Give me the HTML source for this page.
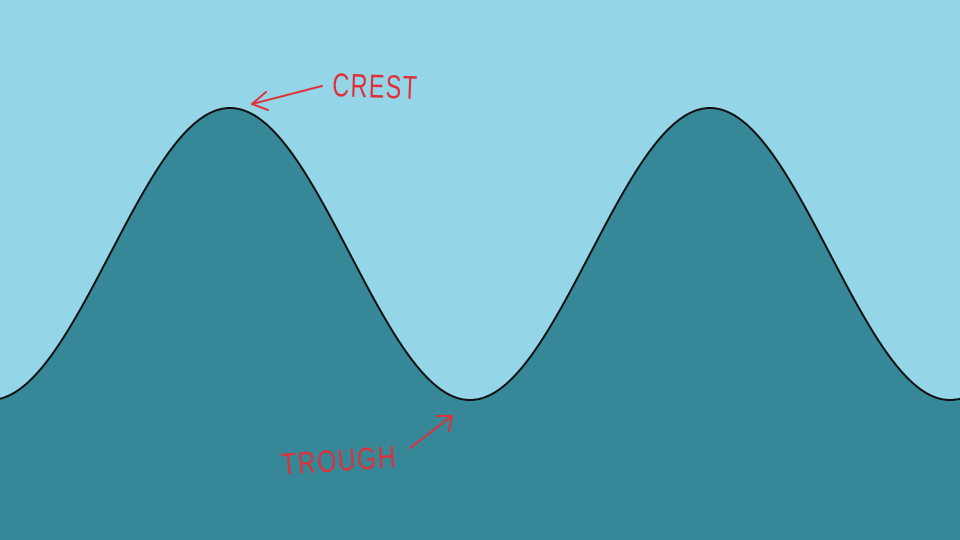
<!DOCTYPE html>
<html><head><meta charset="utf-8"><style>
html,body{margin:0;padding:0;width:960px;height:540px;overflow:hidden;background:#94d6e7}
svg{display:block}
</style></head><body>
<svg id="chart" width="960" height="540" viewBox="0 0 960 540">
<rect x="0" y="0" width="960" height="540" fill="#94d6e7"/>
<path id="wave" fill="#368898" stroke="none"/>
<path id="waveline" fill="none" stroke="#111" stroke-width="2"/>
<g>
<line x1="322" y1="86" x2="252" y2="104" stroke="#e0303a" stroke-width="2" stroke-linecap="round"/>
<polyline points="266,92 252,104 268,110" fill="none" stroke="#e0303a" stroke-width="2" stroke-linecap="round" stroke-linejoin="round"/>
<text x="332" y="96" transform="rotate(2 332 96)" font-family="Liberation Sans, sans-serif" font-size="33" fill="#e0303a" letter-spacing="2" textLength="86" lengthAdjust="spacingAndGlyphs">CREST</text>
</g>
<g>
<line x1="410" y1="448" x2="452" y2="416" stroke="#e0303a" stroke-width="2" stroke-linecap="round"/>
<polyline points="437,416 452,416 449,431" fill="none" stroke="#e0303a" stroke-width="2" stroke-linecap="round" stroke-linejoin="round"/>
<text x="282" y="475" transform="rotate(-4 282 475)" font-family="Liberation Sans, sans-serif" font-size="31" fill="#e0303a" letter-spacing="2" textLength="116" lengthAdjust="spacingAndGlyphs">TROUGH</text>
</g>
</svg>
<script>
const crestX = [230, 710];
const crestY = [108];
const troughY = [400];
const period = [480];
(function(){
  const mid = (crestY[0] + troughY[0]) / 2, amp = (troughY[0] - crestY[0]) / 2;
  let line = '';
  for (let x = -4; x <= 964; x += 2) {
    const y = mid - amp * Math.cos(2 * Math.PI * (x - crestX[0]) / period[0]);
    line += (line ? 'L' : 'M') + x + ',' + y.toFixed(2) + ' ';
  }
  document.getElementById('wave').setAttribute('d', line + 'L964,544 L-4,544 Z');
  document.getElementById('waveline').setAttribute('d', line);
})();
</script>
</body></html>
